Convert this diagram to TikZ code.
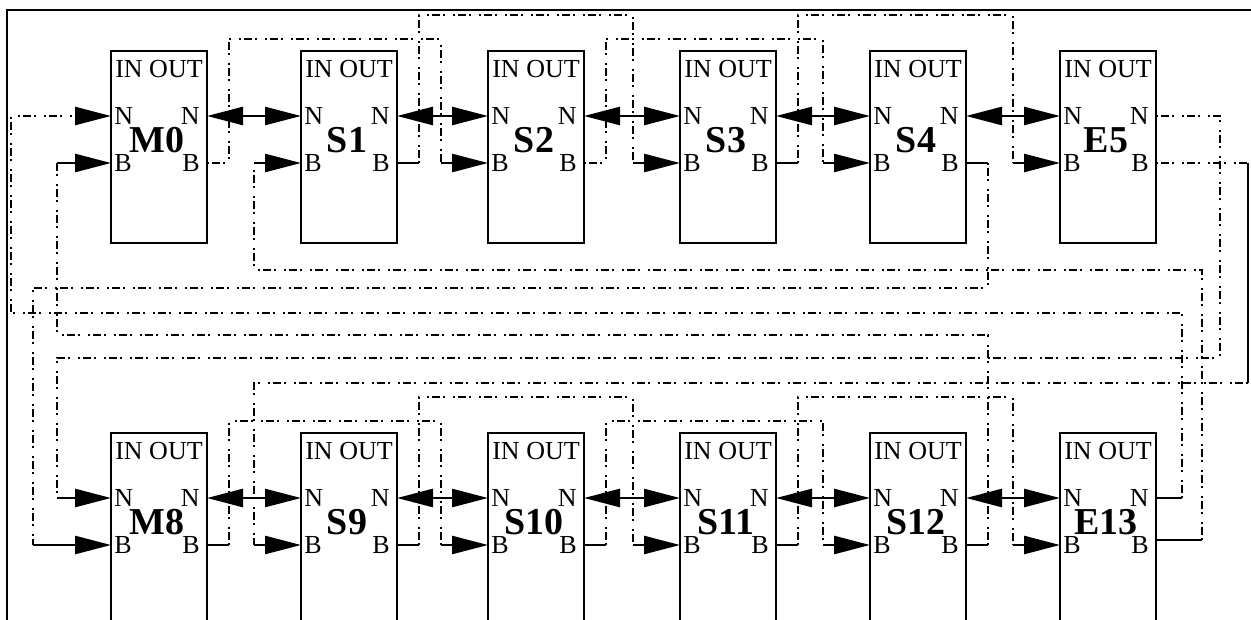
\documentclass[tikz,border=0pt]{standalone}
\usepackage{fontspec}
\setmainfont{Liberation Serif}
\usetikzlibrary{arrows.meta}

\tikzset{
  blk/.style={draw, line width=1.4pt, minimum width=48pt, minimum height=96pt, inner sep=0pt},
  lbl/.style={inner sep=1.5pt, font=\fontsize{13}{15}\selectfont},
  tag/.style={inner sep=0pt, font=\fontsize{19}{21}\selectfont\bfseries},
  wire/.style={line width=1.25pt, dash pattern=on 1pt off 1.5pt on 4pt off 1.5pt on 1pt off 4pt},
  stub/.style={line width=1.3pt},
  feed/.style={line width=1.3pt, -{Triangle[length=18pt,width=9pt]}},
  nlink/.style={line width=1.3pt, {Triangle[length=18pt,width=9pt]}-{Triangle[length=18pt,width=9pt]}},
}

\begin{document}
\begin{tikzpicture}[x=0.5pt,y=-0.5pt]
    \useasboundingbox (0,0) rectangle (1251,620);
    \clip (0,0) rectangle (1251,620);
    % frame
    \draw[line width=1.4pt] (7,630) -- (7,10) -- (1260,10);

    % blocks
    \foreach \n/\x/\t in {M0/111/51, S1/301/51, S2/488/51, S3/680/51, S4/870/51, E5/1060/51,
                          M8/111/433, S9/301/433, S10/488/433, S11/680/433, S12/870/433, E13/1060/433} {
        \node[blk] (\n) at (\x+48,\t+96) {};
        \coordinate (\n-Ni) at (\x,\t+65);
        \coordinate (\n-Bi) at (\x,\t+112);
        \coordinate (\n-No) at (\x+96,\t+65);
        \coordinate (\n-Bo) at (\x+96,\t+112);
        \coordinate (\n-J) at (\x-47,\t+112);
        \coordinate (\n-K) at (\x+118,\t+112);
        \node[lbl] at (\x+48,\t+18) {IN OUT};
        \node[lbl,anchor=west] at (\n-Ni) {N};
        \node[lbl,anchor=west] at (\n-Bi) {B};
        \node[lbl,anchor=east,xshift=-2pt] at (\n-No) {N};
        \node[lbl,anchor=east,xshift=-2pt] at (\n-Bo) {B};
        \node[tag] at (\x+46,\t+89) {\n};
    }

    % N links
    \foreach \a/\b in {M0/S1, S1/S2, S2/S3, S3/S4, S4/E5, M8/S9, S9/S10, S10/S11, S11/S12, S12/E13}
        \draw[nlink] (\a-No) -- (\b-Ni);

    % B links, two blocks ahead
    \draw[wire] (M0-Bo) -- (M0-K) -- ++(0,-124) -| (S2-J);
    \draw[stub] (S1-Bo) -- (S1-K);
    \draw[wire] (S1-K) -- ++(0,-148) -| (S3-J);
    \draw[wire] (S2-Bo) -- (S2-K) -- ++(0,-124) -| (S4-J);
    \draw[stub] (S3-Bo) -- (S3-K);
    \draw[wire] (S3-K) -- ++(0,-148) -| (E5-J);
    \foreach \a/\b/\h in {M8/S10/124, S9/S11/148, S10/S12/124, S11/E13/148} {
        \draw[stub] (\a-Bo) -- (\a-K);
        \draw[wire] (\a-K) -- ++(0,-\h) -| (\b-J);
    }
    \foreach \b in {S1,S2,S3,S4,E5,S9,S10,S11,S12,E13}
        \draw[feed] (\b-J) -- (\b-Bi);

    % wrap-around links
    \draw[stub] (S4-Bo) -- (S4-K);
    \draw[wire] (S4-K) -- ++(0,125) -| ([xshift=-39pt]M8-Bi);
    \draw[feed] ([xshift=-39pt]M8-Bi) -- (M8-Bi);
    \draw[stub] (S12-Bo) -- (S12-K);
    \draw[wire] (S12-K) -- ++(0,-210) -| ([xshift=-27pt]M0-Bi);
    \draw[feed] ([xshift=-27pt]M0-Bi) -- (M0-Bi);
    \draw[wire] (E5-No) -- ++(64,0) -- ++(0,242) -| ([xshift=-27pt]M8-Ni);
    \draw[feed] ([xshift=-27pt]M8-Ni) -- (M8-Ni);
    \draw[wire] (E5-Bo) -- ++(92,0) coordinate (e5b);
    \draw[stub] (e5b) -- ++(0,220) coordinate (e5c);
    \draw[wire] (e5c) -| (S9-J);
    \draw[stub] (E13-No) -- ++(26,0) coordinate (e13n);
    \draw[wire,-{Triangle[length=18pt,width=9pt]}] (e13n) -- ++(0,-185) -| ([xshift=-50pt]M0-Ni) -- (M0-Ni);
    \draw[stub] ([yshift=2.5pt]E13-Bo) -- ++(46,0) coordinate (e13b);
    \draw[wire] (e13b) -- ++(0,-270) -| (S1-J);
\end{tikzpicture}
\end{document}
